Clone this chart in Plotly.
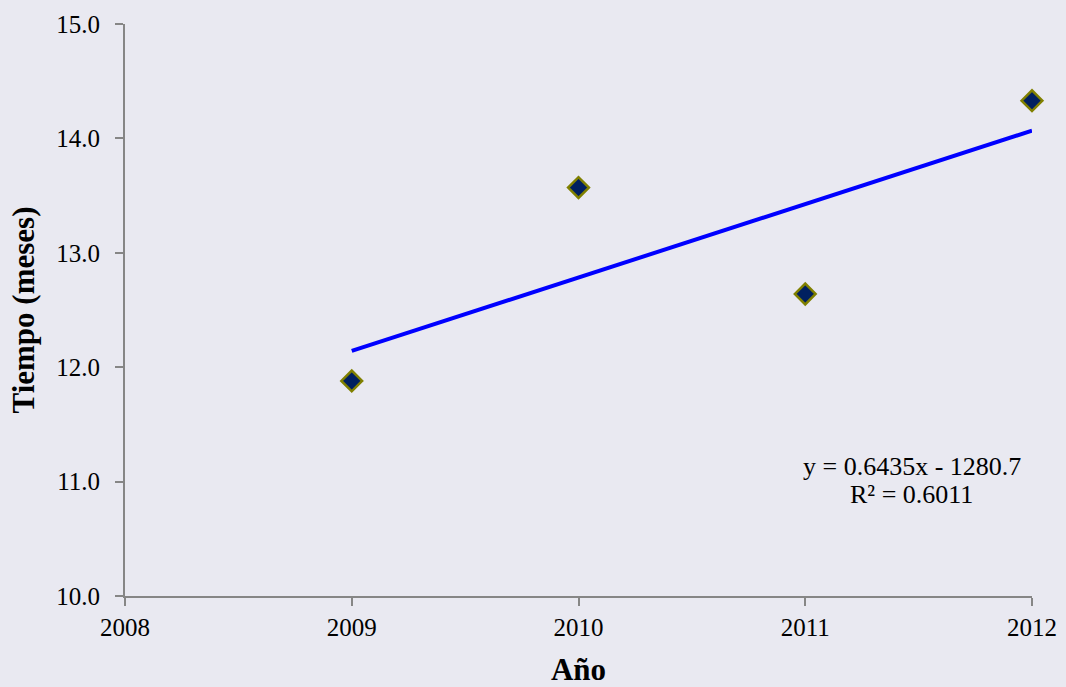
import numpy as np
import plotly.graph_objects as go

years = [2009, 2010, 2011, 2012]
tiempo = [11.88, 13.57, 12.64, 14.33]
x_ticks = [2008, 2009, 2010, 2011, 2012]
y_ticks = [10, 11, 12, 13, 14, 15]
eq_lines = ["y = 0.6435x - 1280.7", "R² = 0.6011"]

slope, intercept = np.polyfit(years, tiempo, 1)
trend_x = [years[0], years[-1]]
trend_y = [slope * v + intercept for v in trend_x]

font_family = "Liberation Serif, DejaVu Serif, serif"
bg = "#e9e9f1"
axis_col = "#868686"

fig = go.Figure()
fig.add_trace(go.Scatter(
    x=trend_x, y=trend_y, mode="lines",
    line=dict(color="#0000ff", width=4), showlegend=False, hoverinfo="skip"))
fig.add_trace(go.Scatter(
    x=years, y=tiempo, mode="markers",
    marker=dict(symbol="diamond", size=16, color="#002060",
                line=dict(color="#808000", width=2.5)),
    showlegend=False, cliponaxis=False))

for txt, yy in zip(eq_lines, [11.128, 10.883]):
    fig.add_annotation(
        x=2011.47, y=yy, xref="x", yref="y", text=txt, showarrow=False,
        align="center", font=dict(family=font_family, size=26, color="#000000"))

fig.update_layout(
    width=1066, height=687,
    margin=dict(l=125, r=34, t=24, b=91),
    paper_bgcolor=bg, plot_bgcolor=bg,
    font=dict(family=font_family, size=25, color="#000000"),
    xaxis=dict(
        range=[2008, 2012], tickvals=x_ticks, ticktext=[str(v) for v in x_ticks],
        showgrid=False, zeroline=False, showline=True, linecolor=axis_col, linewidth=2,
        ticks="outside", tickcolor=axis_col, ticklen=8, tickwidth=2,
        title=dict(text="<b>Año</b>", font=dict(size=31), standoff=20),
        automargin=False),
    yaxis=dict(
        range=[10, 15], tickvals=y_ticks, ticktext=[f"{v:.1f}" for v in y_ticks],
        showgrid=False, zeroline=False, showline=True, linecolor=axis_col, linewidth=2,
        ticks="outside", tickcolor=axis_col, ticklen=8, tickwidth=2,
        ticklabelstandoff=10,
        title=dict(text="<b>Tiempo (meses)</b>", font=dict(size=31), standoff=12),
        automargin=False),
)

fig.write_html("out.html", config={"displayModeBar": False},
               post_script="document.body.style.margin='0';document.body.style.background='" + bg + "';")
